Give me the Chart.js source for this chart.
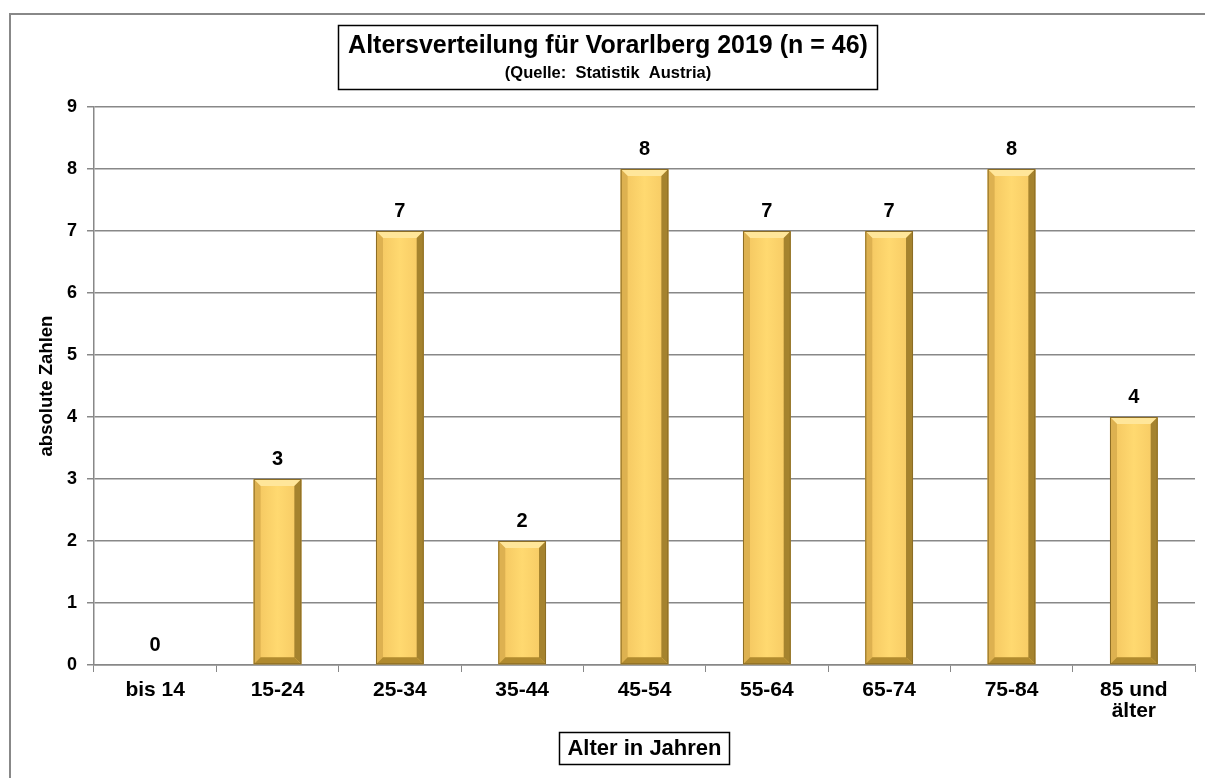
<!DOCTYPE html>
<html><head><meta charset="utf-8">
<script src="https://cdn.jsdelivr.net/npm/chart.js@4/dist/chart.umd.min.js"></script>
<style>html,body{margin:0;padding:0;background:#fff;}#wrap{width:1205px;height:778px;position:relative;}</style>
</head><body><div id="wrap"><canvas id="c" width="1205" height="778"></canvas></div>
<script>
const categories = ['bis 14','15-24','25-34','35-44','45-54','55-64','65-74','75-84',['85 und','älter']];
const values = [0,3,7,2,8,7,7,8,4];
const yTicks = [0,1,2,3,4,5,6,7,8,9];
const titleLine1 = 'Altersverteilung für Vorarlberg 2019 (n = 46)';
const titleLine2 = '(Quelle:  Statistik  Austria)';
const xTitle = 'Alter in Jahren';
const yTitle = 'absolute Zahlen';

const FONT = 'Arial, "Liberation Sans", sans-serif';

function txt(ctx, text, x, y, size, align){
  ctx.save();
  ctx.font = 'bold ' + size + 'px ' + FONT;
  ctx.textBaseline = 'middle';
  ctx.textAlign = align || 'center';
  ctx.fillStyle = '#000';
  ctx.fillText(text, x, y);
  const w = ctx.measureText(text).width;
  ctx.restore();
  return w;
}

const decor = {
  id:'decor',
  beforeDraw(chart){
    const ctx = chart.ctx;
    ctx.save();
    ctx.fillStyle='#fff';ctx.fillRect(0,0,chart.width,chart.height);
    ctx.strokeStyle='#888';ctx.lineWidth=2;
    ctx.beginPath();ctx.moveTo(10,778);ctx.lineTo(10,14);ctx.lineTo(1205,14);ctx.stroke();
    ctx.restore();
  },
  afterDatasetsDraw(chart){
    const ctx = chart.ctx;
    const meta = chart.getDatasetMeta(0);
    ctx.save();
    meta.data.forEach((bar,i)=>{
      const p = bar.getProps(['x','y','base','width'],true);
      const l = p.x - p.width/2, r = p.x + p.width/2, t = p.y, b = p.base;
      const h = b - t;
      if (h > 0.5) {
        const bv = Math.min(7, h/2);
        const g = ctx.createLinearGradient(l,0,r,0);
        g.addColorStop(0,'#F2C45E');g.addColorStop(0.5,'#FFD970');g.addColorStop(1,'#F5C862');
        ctx.fillStyle=g;ctx.fillRect(l,t,r-l,h);
        ctx.fillStyle='#FFE69A';
        ctx.beginPath();ctx.moveTo(l,t);ctx.lineTo(r,t);ctx.lineTo(r-bv,t+bv);ctx.lineTo(l+bv,t+bv);ctx.closePath();ctx.fill();
        ctx.fillStyle='#DDB150';
        ctx.beginPath();ctx.moveTo(l,t);ctx.lineTo(l+bv,t+bv);ctx.lineTo(l+bv,b-bv);ctx.lineTo(l,b);ctx.closePath();ctx.fill();
        ctx.fillStyle='#A5832E';
        ctx.beginPath();ctx.moveTo(r,t);ctx.lineTo(r-bv,t+bv);ctx.lineTo(r-bv,b-bv);ctx.lineTo(r,b);ctx.closePath();ctx.fill();
        ctx.fillStyle='#B08A2E';
        ctx.beginPath();ctx.moveTo(l,b);ctx.lineTo(l+bv,b-bv);ctx.lineTo(r-bv,b-bv);ctx.lineTo(r,b);ctx.closePath();ctx.fill();
        ctx.strokeStyle='#8C6D25';ctx.lineWidth=1;
        ctx.strokeRect(l+0.5,t+0.5,r-l-1,h-1);
      }
      txt(ctx, String(values[i]), p.x, t-20, 20, 'center');
    });
    ctx.restore();
  },
  afterDraw(chart){
    const ctx = chart.ctx;
    const ca = chart.chartArea;
    const xs = chart.scales.x, ys = chart.scales.y;
    ctx.save();
    categories.forEach((c,i)=>{
      const lines = Array.isArray(c)?c:[c];
      const px = xs.getPixelForValue(i);
      lines.forEach((ln,k)=>txt(ctx, ln, px, ca.bottom+25+k*21, 21, 'center'));
    });
    yTicks.forEach(v=>{
      txt(ctx, String(v), 77, ys.getPixelForValue(v), 18, 'right');
    });
    ctx.strokeStyle='#000';ctx.lineWidth=1.5;
    ctx.strokeRect(338.5,25.5,539,64);
    txt(ctx, titleLine1, 608, 46, 25, 'center');
    txt(ctx, titleLine2, 608, 73, 16.5, 'center');
    const cx=(ca.left+ca.right)/2;
    ctx.font='bold 22px '+FONT;
    const w=ctx.measureText(xTitle).width+16;
    ctx.strokeStyle='#000';ctx.lineWidth=1.5;
    ctx.strokeRect(Math.round(cx-w/2)+0.5,732.5,Math.round(w),32);
    txt(ctx, xTitle, cx, 749, 22, 'center');
    ctx.translate(47,(ca.top+ca.bottom)/2);ctx.rotate(-Math.PI/2);
    txt(ctx, yTitle, 0, 0, 18.5, 'center');
    ctx.restore();
  }
};

new Chart(document.getElementById('c'),{
  type:'bar',
  data:{labels:categories,datasets:[{data:values,backgroundColor:'rgba(0,0,0,0)',borderWidth:0,barPercentage:0.39,categoryPercentage:1}]},
  options:{
    responsive:false,animation:false,devicePixelRatio:1,
    layout:{padding:{left:0,right:10,top:107,bottom:0}},
    plugins:{legend:{display:false},tooltip:{enabled:false},title:{display:false}},
    scales:{
      x:{
        grid:{drawOnChartArea:false,color:'#888',tickLength:7,offset:true},
        border:{color:'#888',width:1.5},
        ticks:{display:false},
        afterFit(s){s.height=113;}
      },
      y:{
        min:0,max:9,
        afterBuildTicks(s){s.ticks=yTicks.map(v=>({value:v}));},
        grid:{color:'#888',lineWidth:1.5,tickLength:7},
        border:{color:'#888',width:1.5},
        ticks:{display:false},
        afterFit(s){s.width=94;}
      }
    }
  },
  plugins:[decor]
});
</script></body></html>
